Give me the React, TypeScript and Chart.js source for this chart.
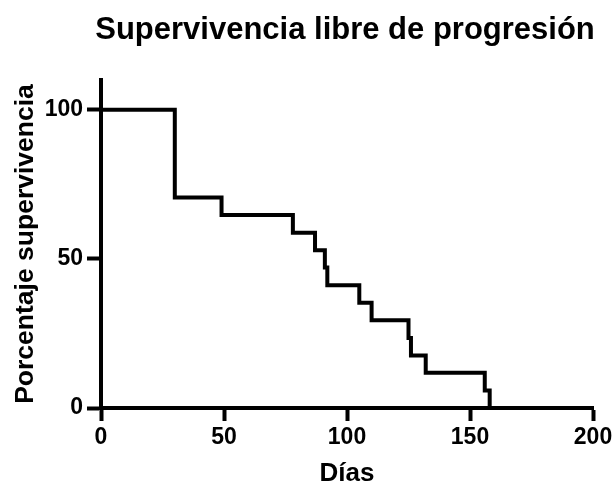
import React, { useEffect, useRef } from "react";
import { Chart, registerables } from "chart.js";

Chart.register(...registerables);

const days = [0, 30, 49, 78, 87, 91, 92, 105, 110, 125, 126, 132, 156, 158];
const survival = [100, 70.6, 64.7, 58.8, 52.9, 47.1, 41.2, 35.3, 29.4, 23.5, 17.6, 11.8, 5.9, 0];
const xTicks = [0, 50, 100, 150, 200];
const yTicks = [0, 50, 100];
const titleText = "Supervivencia libre de progresión";
const xTitle = "Días";
const yTitle = "Porcentaje supervivencia";

const FONT = "'Liberation Sans', Arial, Helvetica, sans-serif";

const titlePlugin = {
  id: "centeredTitle",
  afterDraw(chart: any) {
    const { ctx, chartArea } = chart;
    ctx.save();
    ctx.font = `bold 31px ${FONT}`;
    ctx.fillStyle = "#000";
    ctx.textAlign = "center";
    ctx.textBaseline = "alphabetic";
    ctx.fillText(titleText, (chartArea.left + chartArea.right) / 2 - 2, 39);
    ctx.restore();
  },
};

export default function App() {
  const ref = useRef<HTMLCanvasElement>(null);
  useEffect(() => {
    if (!ref.current) return;
    const chart = new Chart(ref.current, {
      type: "line",
      data: {
        datasets: [
          {
            data: days.map((d, i) => ({ x: d, y: survival[i] })),
            borderColor: "#000",
            borderWidth: 4,
            stepped: "before",
            pointRadius: 0,
            fill: false,
            borderJoinStyle: "miter",
            borderCapStyle: "butt",
            clip: 6,
          } as any,
        ],
      },
      plugins: [titlePlugin],
      options: {
        animation: false,
        responsive: false,
        maintainAspectRatio: false,
        layout: { padding: { top: 80, left: 0, right: 23, bottom: 0 } },
        plugins: { legend: { display: false }, title: { display: false }, tooltip: { enabled: false } },
        scales: {
          x: {
            type: "linear",
            min: 0,
            max: 200,
            afterBuildTicks: (s: any) => {
              s.ticks = xTicks.map((v) => ({ value: v }));
            },
            afterFit: (s: any) => {
              s.height = 76;
            },
            border: { display: true, width: 4, color: "#000" },
            grid: { display: true, drawOnChartArea: false, drawTicks: true, tickLength: 13, tickWidth: 4, tickColor: "#000" },
            ticks: { color: "#000", font: { family: FONT, size: 23, weight: "bold" }, padding: 3, maxRotation: 0 },
            title: { display: true, text: xTitle, color: "#000", font: { family: FONT, size: 26, weight: "bold", lineHeight: 1.0 }, padding: { top: 0, bottom: -3 } },
          },
          y: {
            type: "linear",
            min: 0,
            max: 110,
            afterBuildTicks: (s: any) => {
              s.ticks = yTicks.map((v) => ({ value: v }));
            },
            afterFit: (s: any) => {
              s.width = 101;
            },
            border: { display: true, width: 4, color: "#000" },
            grid: { display: true, drawOnChartArea: false, drawTicks: true, tickLength: 14, tickWidth: 4, tickColor: "#000" },
            ticks: { color: "#000", font: { family: FONT, size: 23, weight: "bold" }, padding: 4 },
            title: { display: true, text: yTitle, color: "#000", font: { family: FONT, size: 26.5, weight: "bold" }, padding: { top: 10, bottom: 0 } },
          },
        },
      } as any,
    });
    return () => chart.destroy();
  }, []);
  return (
    <div style={{ position: "fixed", left: 0, top: 0, width: 616, height: 484, background: "#fff" }}>
      <canvas ref={ref} width={616} height={484} style={{ width: 616, height: 484, display: "block" }} />
    </div>
  );
}
